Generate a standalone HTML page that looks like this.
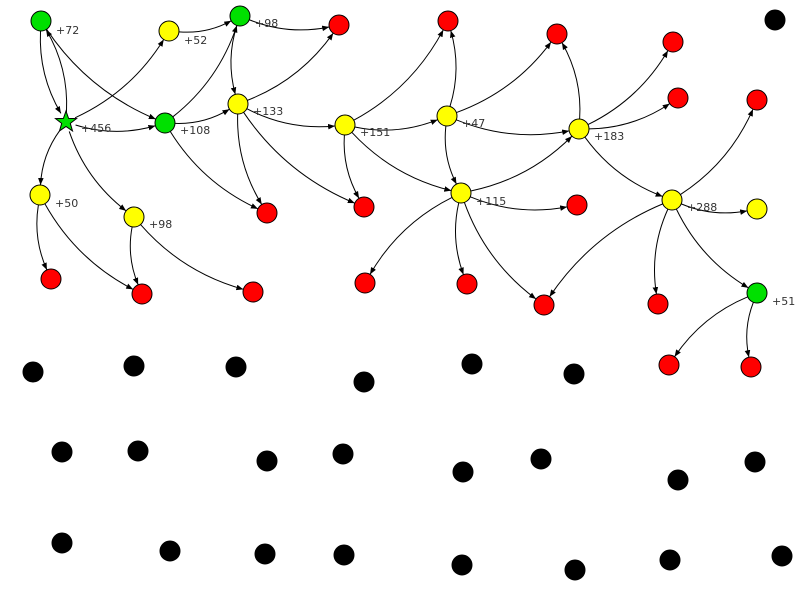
<!DOCTYPE html>
<html><head><meta charset="utf-8"><style>
html,body{margin:0;padding:0;background:#fff;width:800px;height:600px;overflow:hidden}
svg{display:block}
text{font-family:"DejaVu Sans","Liberation Sans",sans-serif;font-size:11px;fill:#333}
</style></head><body>
<svg id="s" width="800" height="600" xmlns="http://www.w3.org/2000/svg">
<defs><marker id="a" viewBox="0 0 10 10" refX="10" refY="5" markerWidth="7" markerHeight="7" orient="auto"><path d="M0,1 L10,5 L0,9 z" fill="#000"/></marker></defs>
<g id="edges" fill="none" stroke="#000" stroke-width="1"></g>
<g id="nodes" stroke="#000" stroke-width="1"></g>
<g id="labels">
<text x="56" y="34">+72</text>
<text x="81" y="132">+456</text>
<text x="184" y="44">+52</text>
<text x="255" y="27">+98</text>
<text x="180" y="134">+108</text>
<text x="253" y="115">+133</text>
<text x="360" y="136">+151</text>
<text x="462" y="127">+47</text>
<text x="594" y="140">+183</text>
<text x="55" y="207">+50</text>
<text x="149" y="228">+98</text>
<text x="476" y="205">+115</text>
<text x="687" y="211">+288</text>
<text x="772" y="305">+51</text>
</g>
</svg>
<script>
var N={
g1:[41,21,'#00e000'],st:[66,122,'star'],y52:[169,31,'#ffff00'],g98:[240,16,'#00e000'],r1:[339,25,'#f00'],
g108:[165,123,'#00e000'],y133:[238,104,'#ffff00'],y151:[345,125,'#ffff00'],r2:[448,21,'#f00'],y47:[447,116,'#ffff00'],
r3:[557,34,'#f00'],r4:[673,42,'#f00'],y183:[579,129,'#ffff00'],r5:[678,98,'#f00'],r6:[757,100,'#f00'],
y50:[40,195,'#ffff00'],y98:[134,217,'#ffff00'],r7:[51,279,'#f00'],r8:[142,294,'#f00'],r9:[253,292,'#f00'],
r10:[267,213,'#f00'],r11:[364,207,'#f00'],y115:[461,193,'#ffff00'],r12:[577,205,'#f00'],y288:[672,200,'#ffff00'],
y2:[757,209,'#ffff00'],r13:[365,283,'#f00'],r14:[467,284,'#f00'],r15:[544,305,'#f00'],r16:[658,304,'#f00'],
g51:[757,293,'#00e000'],r17:[669,365,'#f00'],r18:[751,367,'#f00']};
var B=[[775,20],[33,372],[134,366],[236,367],[364,382],[472,364],[574,374],[62,452],[138,451],[267,461],[343,454],[463,472],[541,459],[678,480],[755,462],[62,543],[170,551],[265,554],[344,555],[462,565],[575,570],[670,560],[782,556]];
var E=[['g1','st'],['st','g1'],['g1','g108'],['st','y52'],['st','g108'],['st','y50'],['st','y98'],['y52','g98'],['g108','g98'],['g108','y133'],['g108','r10'],
['g98','r1'],['g98','y133'],['y133','r1'],['y133','y151'],['y133','r10'],['y133','r11'],['y151','r2'],['y151','y47'],['y151','r11'],['y151','y115'],
['y47','r2'],['y47','r3'],['y47','y183'],['y47','y115'],['y183','r3'],['y183','r4'],['y183','r5'],['y183','y288'],['y115','y183'],['y115','r12'],
['y115','r13'],['y115','r14'],['y115','r15'],['y288','r6'],['y288','y2'],['y288','r15'],['y288','r16'],['y288','g51'],['g51','r17'],['g51','r18'],
['y50','r7'],['y50','r8'],['y98','r8'],['y98','r9']];
var ns='http://www.w3.org/2000/svg',eg=document.getElementById('edges'),ng=document.getElementById('nodes');
E.forEach(function(e){var a=N[e[0]],b=N[e[1]];var dx=b[0]-a[0],dy=b[1]-a[1],L=Math.hypot(dx,dy);
var mx=(a[0]+b[0])/2-dy*0.15,my=(a[1]+b[1])/2+dx*0.15;
function tr(p,c){var vx=c[0]-p[0],vy=c[1]-p[1],l=Math.hypot(vx,vy);return [p[0]+vx/l*10,p[1]+vy/l*10];}
var s=tr(a,[mx,my]),t=tr(b,[mx,my]);
var p=document.createElementNS(ns,'path');p.setAttribute('d','M'+s[0]+','+s[1]+' Q'+mx+','+my+' '+t[0]+','+t[1]);p.setAttribute('marker-end','url(#a)');eg.appendChild(p);});
for(var k in N){var n=N[k];if(n[2]=='star'){var pts=[];for(var i=0;i<10;i++){var r=i%2?4.5:11,an=-Math.PI/2+i*Math.PI/5;pts.push((n[0]+r*Math.cos(an)).toFixed(1)+','+(n[1]+r*Math.sin(an)).toFixed(1));}
var pg=document.createElementNS(ns,'polygon');pg.setAttribute('points',pts.join(' '));pg.setAttribute('fill','#00e000');ng.appendChild(pg);}
else{var c=document.createElementNS(ns,'circle');c.setAttribute('cx',n[0]);c.setAttribute('cy',n[1]);c.setAttribute('r',10);c.setAttribute('fill',n[2]);ng.appendChild(c);}}
B.forEach(function(b){var c=document.createElementNS(ns,'circle');c.setAttribute('cx',b[0]);c.setAttribute('cy',b[1]);c.setAttribute('r',10);c.setAttribute('fill','#000');ng.appendChild(c);});
</script>
</body></html>
